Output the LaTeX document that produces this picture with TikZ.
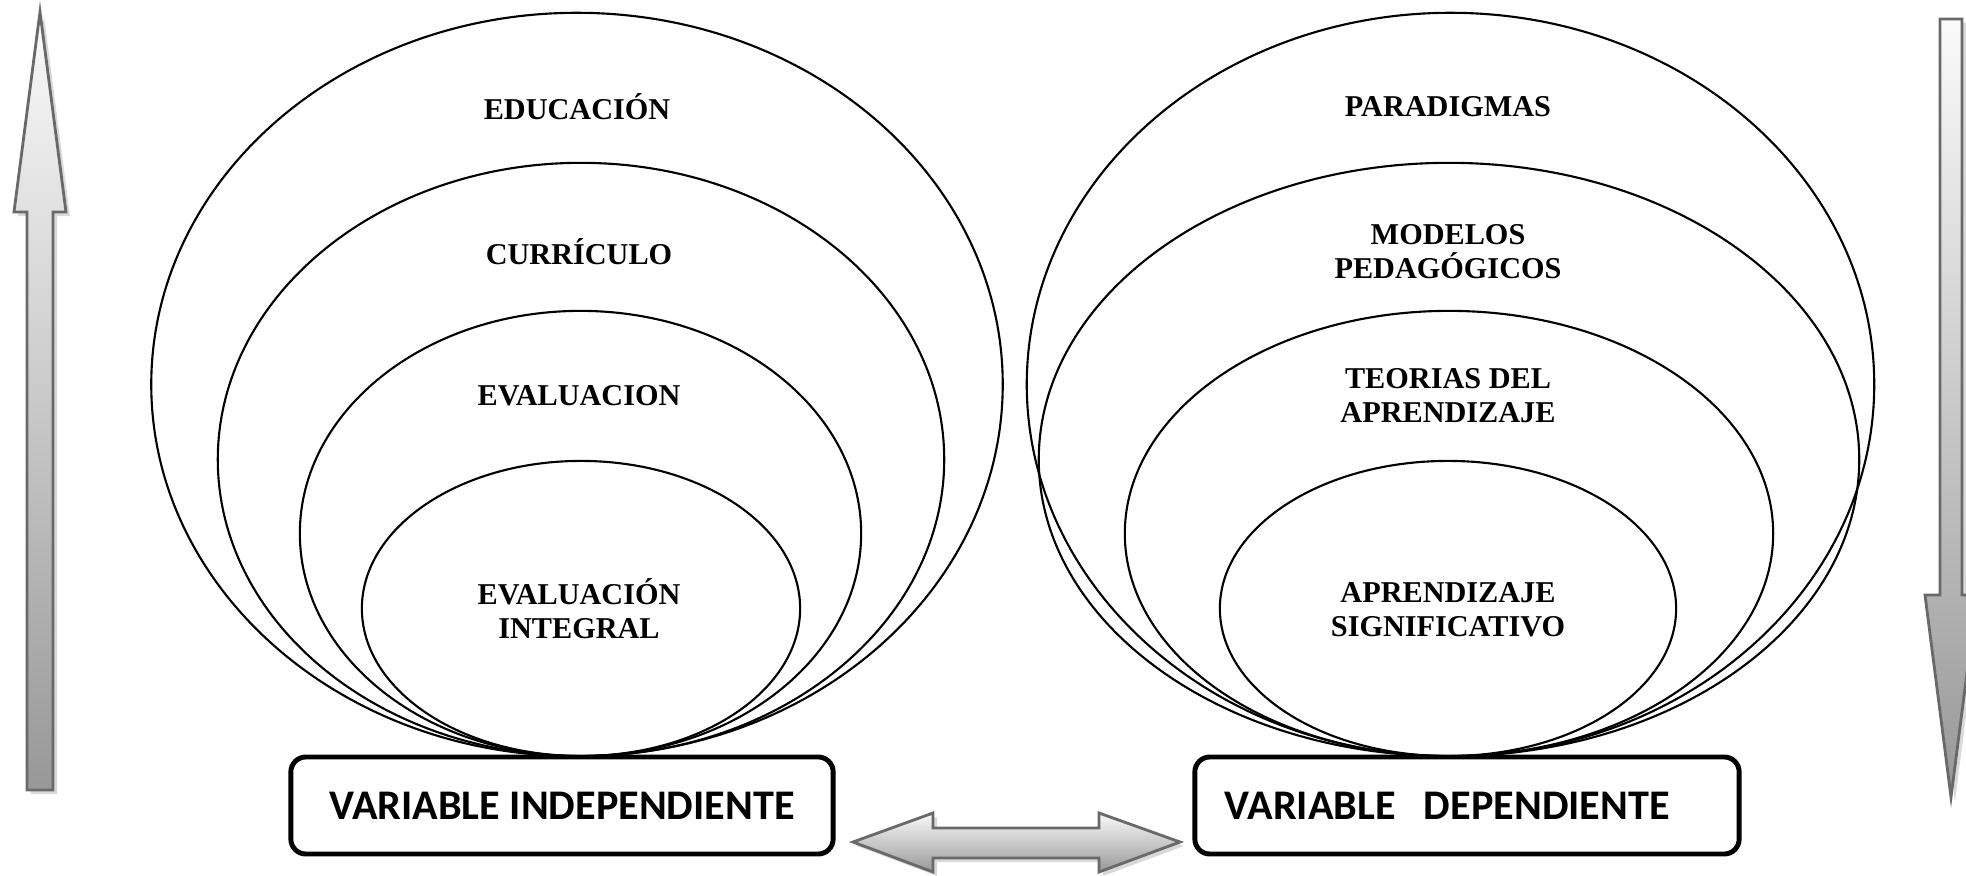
\documentclass[tikz,border=0pt]{standalone}
\usepackage{fontspec}
\setmainfont{Liberation Serif}
\newfontfamily\boxfont{Carlito}
\usetikzlibrary{shadows}
\definecolor{arrowedge}{RGB}{105,105,105}
\definecolor{arrowlight}{RGB}{250,250,250}
\definecolor{arrowdark}{RGB}{152,152,152}

\begin{document}
\begin{tikzpicture}[
		x=0.01cm, y=-0.01cm,
		ring/.style={draw=black, line width=0.6pt},
		ringtext/.style={align=center, inner sep=1pt,
			font=\fontsize{8.6}{9.7}\selectfont\bfseries},
		varbox/.style={draw=black, line width=1.4pt, rounded corners=0.15cm,
			minimum width=5.42cm, minimum height=0.97cm,
			font=\boxfont\fontsize{12}{14}\selectfont\bfseries},
		bigarrow/.style={draw=arrowedge, line width=0.8pt,
			top color=arrowlight, bottom color=arrowdark,
			drop shadow={opacity=0.3, shadow xshift=0.04cm, shadow yshift=-0.04cm}}
	]
		\useasboundingbox (0,0) rectangle (1966,876);
		\clip (0,0) rectangle (1966,876);
		% nested rings
		\foreach \cx/\cy/\rx/\ry in {577/384.5/4.255/3.715, 581/459.5/3.63/2.965,
				580.5/533.5/2.805/2.225, 581/608.5/2.19/1.475,
				1450.5/384.5/4.235/3.715, 1449/459.5/4.10/2.965,
				1449/533.5/3.24/2.225, 1448/608.5/2.28/1.475}
			\draw[ring] (\cx,\cy) ellipse [x radius=\rx cm, y radius=\ry cm];
		\node[ringtext] (educ) at (577,107) {EDUCACIÓN};
		\node[ringtext] (curr) at (579,252) {CURRÍCULO};
		\node[ringtext] (eval) at (579,396) {EVALUACION};
		\node[ringtext] (evint) at (579,609) {EVALUACIÓN\\INTEGRAL};
		\node[ringtext] (parad) at (1448,107) {PARADIGMAS};
		\node[ringtext] (model) at (1448,252) {MODELOS\\PEDAGÓGICOS};
		\node[ringtext] (teor) at (1448,396) {TEORIAS DEL\\APRENDIZAJE};
		\node[ringtext] (aprsig) at (1448,610) {APRENDIZAJE\\SIGNIFICATIVO};
		% variables
		\node[varbox] (indep) at (562,805.5) {VARIABLE INDEPENDIENTE};
		\node[varbox, text width=4.84cm, inner xsep=0.3cm, align=left] (dep) at (1467,805.5) {VARIABLE\ \ DEPENDIENTE};
		% block arrows
		\path[bigarrow] (40,12) -- (66,212) -- (53,212) -- (53,790) -- (27,790)
			-- (27,212) -- (14,212) -- cycle;
		\path[bigarrow] (1951,797) -- (1977,595) -- (1962,595) -- (1962,19)
			-- (1940,19) -- (1940,595) -- (1925,595) -- cycle;
		\path[bigarrow] (853,842) -- (933,813) -- (933,828) -- (1099,828) -- (1099,813)
			-- (1180,842) -- (1099,872) -- (1099,858) -- (933,858) -- (933,872) -- cycle;
	\end{tikzpicture}
\end{document}
